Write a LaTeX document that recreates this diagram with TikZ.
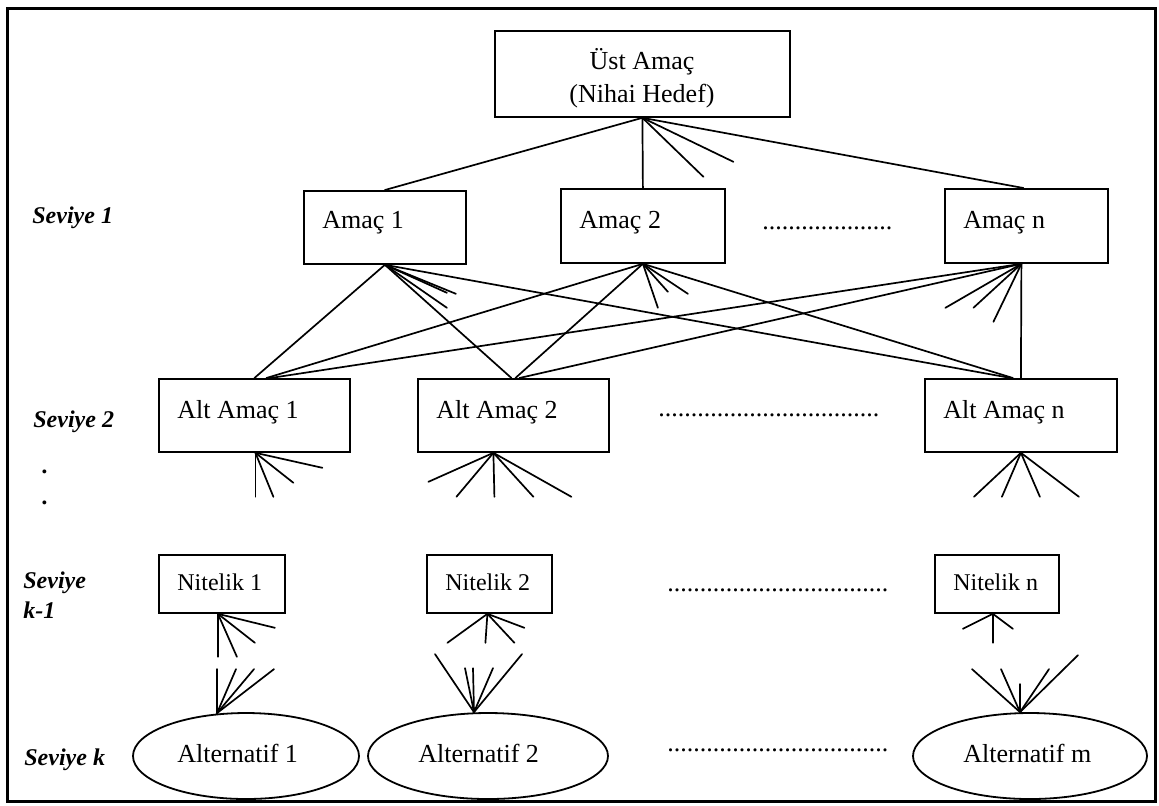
\documentclass[tikz,border=0pt]{standalone}
\usepackage{fontspec}
\setmainfont{Liberation Serif}
\usetikzlibrary{calc,shapes.geometric}
\begin{document}
\begin{tikzpicture}[x=0.5pt,y=-0.5pt,
  box/.style={draw,line width=0.9pt,inner sep=0pt,anchor=north west},
  oval/.style={draw,line width=0.9pt,ellipse,inner sep=0pt},
  txt/.style={inner sep=0pt,anchor=base west,font=\fontsize{13}{15}\selectfont},
  ntxt/.style={inner sep=0pt,anchor=base west,font=\fontsize{12}{14}\selectfont},
  lvl/.style={inner sep=0pt,anchor=base west,font=\fontsize{12}{14}\selectfont\bfseries\itshape},
  link/.style={line width=0.85pt,line cap=round},
  dots/.style={inner sep=0pt,anchor=base west,font=\fontsize{13}{15}\selectfont}]
\useasboundingbox (0,0) rectangle (1159,805);
\draw[line width=1.5pt] (7,8) rectangle (1155,801);

% level 0
\node[box,minimum width=147.5pt,minimum height=43pt] (top) at (494,30) {};
\node[txt,anchor=base] (topA) at (642,69) {Üst Amaç};
\node[txt,anchor=base] (topB) at (642,102) {(Nihai Hedef)};

% level 1
\node[box,minimum width=81pt,minimum height=36.5pt] (a1) at (303,190) {};
\node[box,minimum width=82pt,minimum height=37pt] (a2) at (560,188) {};
\node[box,minimum width=81.5pt,minimum height=37pt] (an) at (944,188) {};
\node[txt] (a1t) at (322,228) {Amaç 1};
\node[txt] (a2t) at (579,228) {Amaç 2};
\node[txt] (ant) at (963,228) {Amaç n};
\node[dots] (d1) at (762,229) {....................};

% level 2
\node[box,minimum width=95.5pt,minimum height=36.5pt] (s1) at (158,378) {};
\node[box,minimum width=95.5pt,minimum height=36.5pt] (s2) at (417,378) {};
\node[box,minimum width=96pt,minimum height=36.5pt] (sn) at (924,378) {};
\node[txt] (s1t) at (177,418) {Alt Amaç 1};
\node[txt] (s2t) at (436,418) {Alt Amaç 2};
\node[txt] (snt) at (943,418) {Alt Amaç n};
\node[dots] (d2) at (658,416) {..................................};

% level k-1
\node[box,minimum width=63pt,minimum height=29pt] (n1) at (158,554) {};
\node[box,minimum width=62.5pt,minimum height=29pt] (n2) at (426,554) {};
\node[box,minimum width=62pt,minimum height=29pt] (nn) at (934,554) {};
\node[ntxt] (n1t) at (177,590) {Nitelik 1};
\node[ntxt] (n2t) at (445,590) {Nitelik 2};
\node[ntxt] (nnt) at (953,590) {Nitelik n};
\node[dots] (d3) at (667,591) {..................................};

% level k
\node[oval,minimum width=113pt,minimum height=43pt] (e1) at (246,756) {};
\node[oval,minimum width=120pt,minimum height=43pt] (e2) at (488,756) {};
\node[oval,minimum width=117pt,minimum height=43pt] (em) at (1030,756) {};
\node[txt] (e1t) at (177,762) {Alternatif 1};
\node[txt] (e2t) at (418,762) {Alternatif 2};
\node[txt] (emt) at (963,762) {Alternatif m};
\node[dots] (d4) at (667,751) {..................................};

% level labels
\node[lvl] (l1) at (32,223) {Seviye 1};
\node[lvl] (l2) at (33,427) {Seviye 2};
\node[lvl] (dA) at (42,473) {.};
\node[lvl] (dB) at (42,504) {.};
\node[lvl] (l3a) at (23,588) {Seviye};
\node[lvl] (l3b) at (23,618) {k-1};
\node[lvl] (l4) at (24,765) {Seviye k};

% goal -> objectives
\draw[link] (top.south) -- (a1.north);
\draw[link] (top.south) -- (a2.north);
\draw[link] (top.south) -- ($(an.north)+(-3,0)$);
\draw[link] (top.south) -- ++(61,59);
\draw[link] (top.south) -- ++(91,44);

% objectives -> sub-objectives
\draw[link] (a1.south) -- (s1.north);
\draw[link] (a1.south) -- ($(s2.north)+(-2,0)$);
\draw[link] (a1.south) -- ($(sn.north)+(-10,0)$);
\draw[link] (a1.south) -- ++(62,43);
\draw[link] (a1.south) -- ++(62,28);
\draw[link] (a1.south) -- ++(71,29);

\draw[link] (a2.south) -- ($(s1.north)+(12,0)$);
\draw[link] (a2.south) -- ($(s2.north)+(2,0)$);
\draw[link] (a2.south) -- ($(sn.north)+(-8,0)$);
\draw[link] (a2.south) -- ++(15,44);
\draw[link] (a2.south) -- ++(25,28);
\draw[link] (a2.south) -- ++(45,30);

\coordinate (anb) at ($(an.south)+(-5,0)$);
\draw[link] (anb) -- ($(s1.north)+(16,0)$);
\draw[link] (anb) -- ($(s2.north)+(6,0)$);
\draw[link] (anb) -- (sn.north);
\draw[link] (anb) -- ++(-76,44);
\draw[link] (anb) -- ++(-48,44);
\draw[link] (anb) -- ++(-28,58);

% sub-objective stubs
\coordinate (s1b) at ($(s1.south)+(1,0)$);
\draw[link] (s1b) -- ++(0,44);
\draw[link] (s1b) -- ++(18,44);
\draw[link] (s1b) -- ++(38,30);
\draw[link] (s1b) -- ++(67,15);

\coordinate (s2b) at ($(s2.south)+(-20,0)$);
\draw[link] (s2b) -- ++(-65,29);
\draw[link] (s2b) -- ++(-37,44);
\draw[link] (s2b) -- ++(1,44);
\draw[link] (s2b) -- ++(40,44);
\draw[link] (s2b) -- ++(78,44);

\draw[link] (sn.south) -- ++(-47,44);
\draw[link] (sn.south) -- ++(-19,44);
\draw[link] (sn.south) -- ++(19,44);
\draw[link] (sn.south) -- ++(58,44);

% attribute stubs
\coordinate (n1b) at ($(n1.south)+(-4,0)$);
\draw[link] (n1b) -- ++(0,43);
\draw[link] (n1b) -- ++(19,43);
\draw[link] (n1b) -- ++(37,29);
\draw[link] (n1b) -- ++(57,14);

\coordinate (n2b) at ($(n2.south)+(-2,0)$);
\draw[link] (n2b) -- ++(-40,29);
\draw[link] (n2b) -- ++(-2,29);
\draw[link] (n2b) -- ++(27,29);
\draw[link] (n2b) -- ++(37,14);

\coordinate (nnb) at ($(nn.south)+(-4,0)$);
\draw[link] (nnb) -- ++(-30,15);
\draw[link] (nnb) -- ++(0,29);
\draw[link] (nnb) -- ++(20,15);

% alternative stubs
\coordinate (e1t0) at ($(e1.north)+(-29,1)$);
\draw[link] (e1t0) -- ++(0,-44);
\draw[link] (e1t0) -- ++(19,-44);
\draw[link] (e1t0) -- ++(37,-44);
\draw[link] (e1t0) -- ++(57,-44);

\coordinate (e2t0) at ($(e2.north)+(-14,0)$);
\draw[link] (e2t0) -- ++(-39,-58);
\draw[link] (e2t0) -- ++(-9,-44);
\draw[link] (e2t0) -- ++(-1,-44);
\draw[link] (e2t0) -- ++(19,-44);
\draw[link] (e2t0) -- ++(48,-58);

\coordinate (emt0) at ($(em.north)+(-10,0)$);
\draw[link] (emt0) -- ++(-48,-43);
\draw[link] (emt0) -- ++(-19,-43);
\draw[link] (emt0) -- ++(0,-28);
\draw[link] (emt0) -- ++(29,-43);
\draw[link] (emt0) -- ++(58,-57);
\end{tikzpicture}
\end{document}
